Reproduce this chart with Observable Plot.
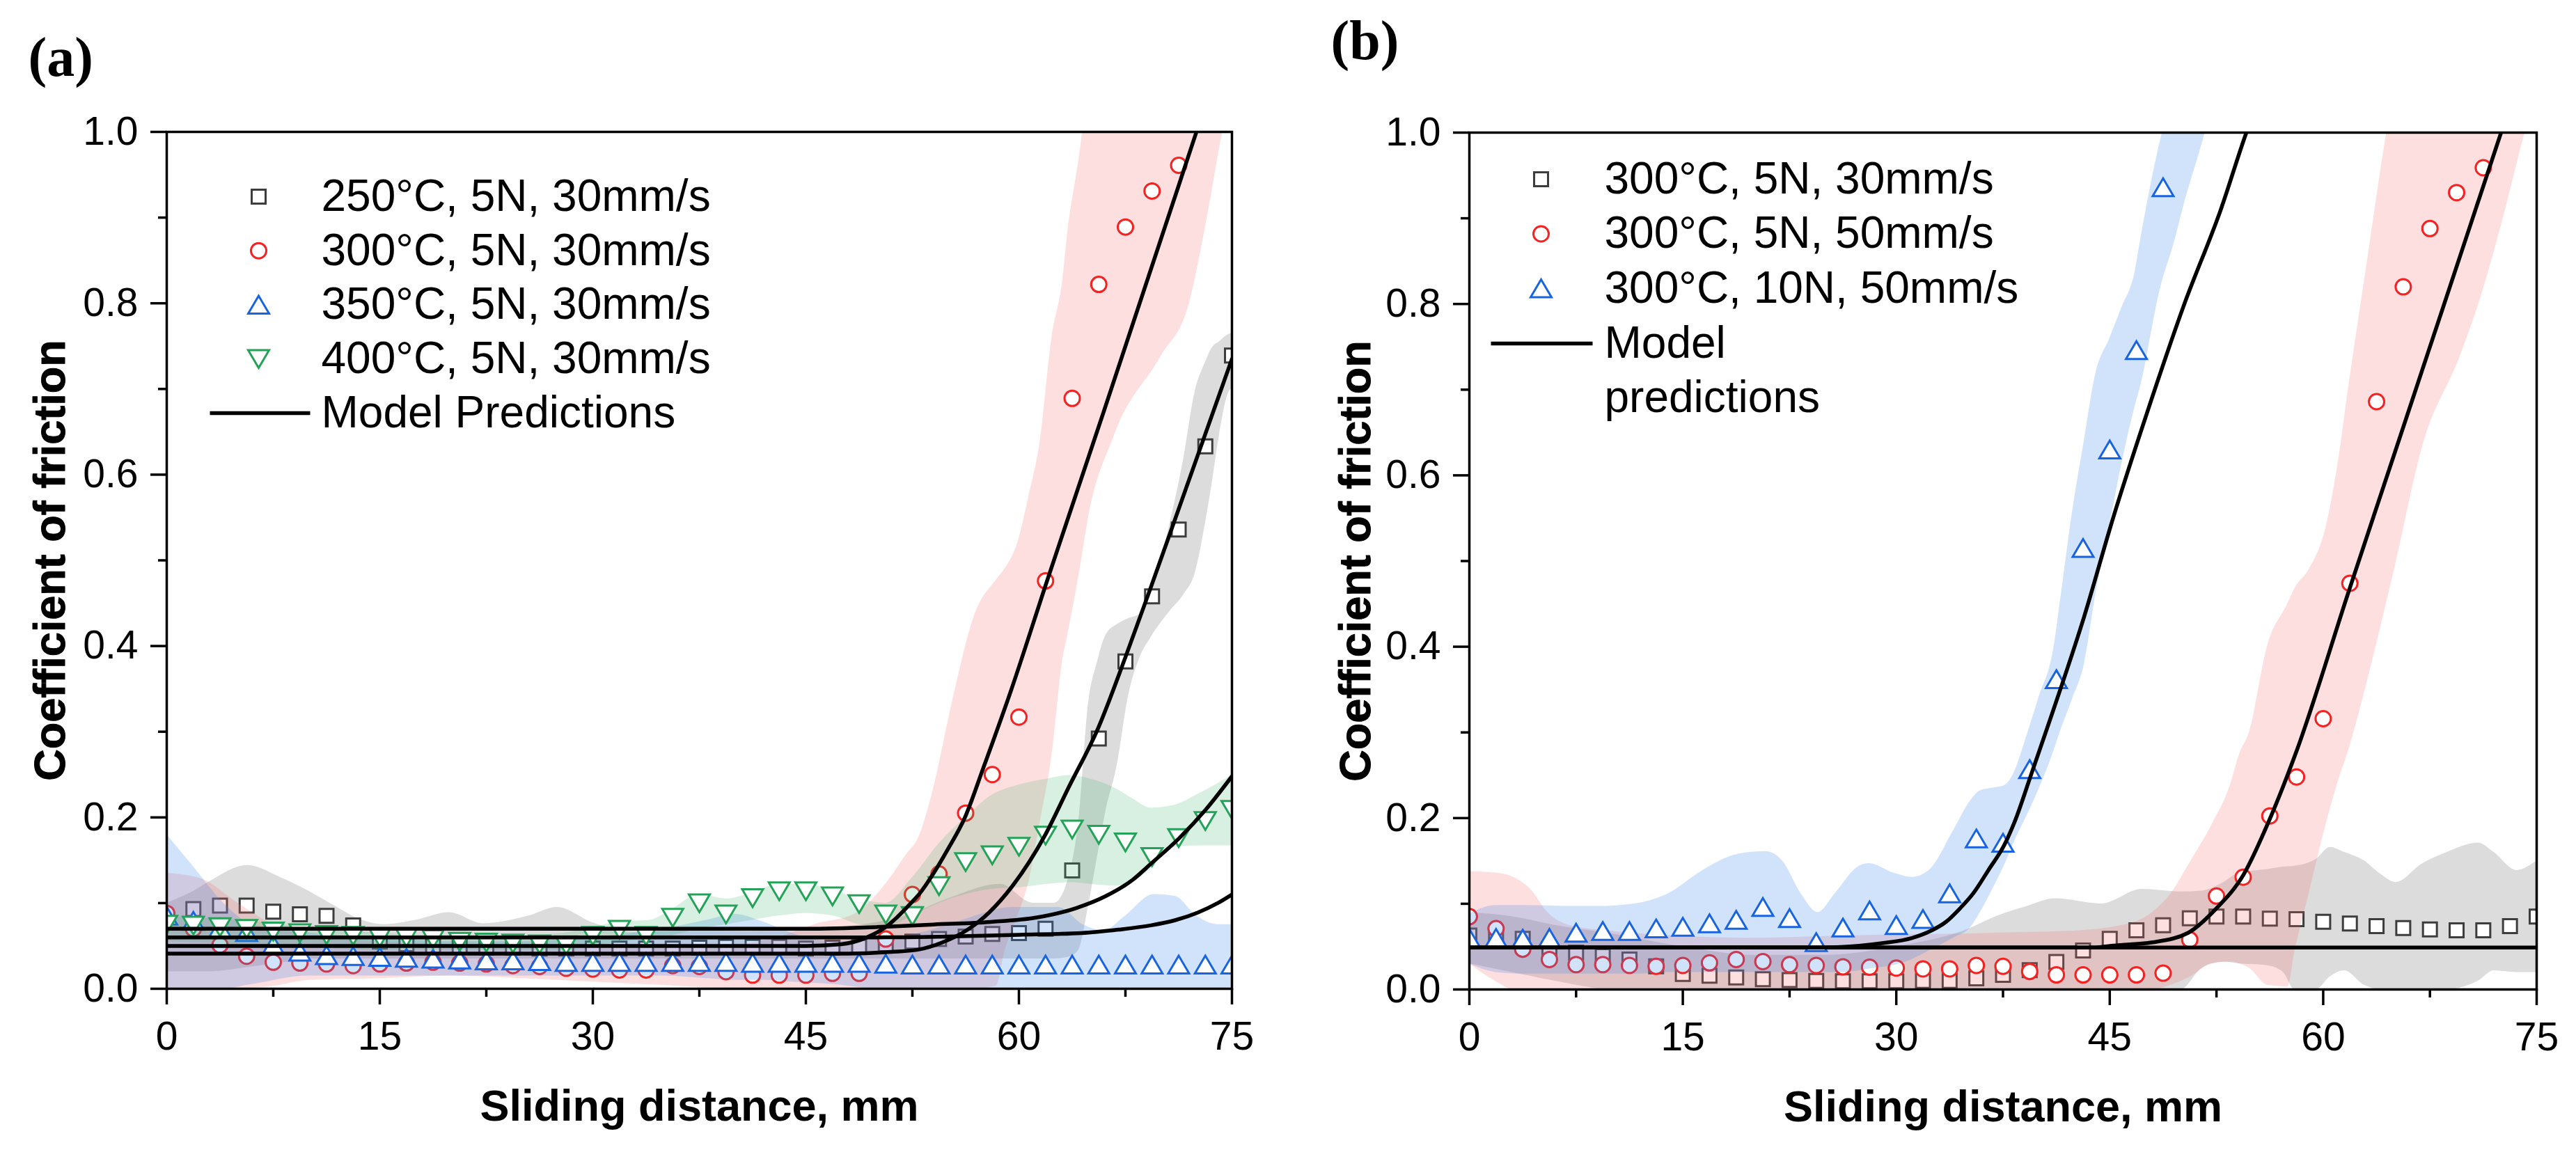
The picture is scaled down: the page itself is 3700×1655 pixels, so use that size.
<!DOCTYPE html>
<html><head><meta charset="utf-8">
<script src="https://cdn.jsdelivr.net/npm/d3@7"></script>
<script src="https://cdn.jsdelivr.net/npm/@observablehq/plot@0.6"></script>
<style>
body{margin:0;background:#fff;}
#wrap{display:flex;width:3700px;height:1655px;overflow:hidden;}
</style></head><body><div id="wrap"></div>
<script>
// ---------- shared x grid (mm) ----------
const dist = [0, 1.875, 3.75, 5.625, 7.5, 9.375, 11.25, 13.125, 15, 16.875, 18.75, 20.625, 22.5, 24.375, 26.25, 28.125, 30, 31.875, 33.75, 35.625, 37.5, 39.375, 41.25, 43.125, 45, 46.875, 48.75, 50.625, 52.5, 54.375, 56.25, 58.125, 60, 61.875, 63.75, 65.625, 67.5, 69.375, 71.25, 73.125, 75];

// ---------- panel (a) measured COF ----------
const a250 = [null, 0.093, 0.097, 0.097, 0.090, 0.087, 0.085, 0.074, 0.055, 0.052, 0.050, 0.049, 0.048, 0.048, 0.047, 0.047, 0.047, 0.047, 0.047, 0.047, 0.048, 0.049, 0.049, 0.049, 0.047, 0.048, 0.049, 0.052, 0.055, 0.058, 0.061, 0.064, 0.065, 0.070, 0.138, 0.292, 0.382, 0.458, 0.536, 0.633, 0.739];
const a300 = [0.088, 0.070, 0.051, 0.038, 0.031, 0.030, 0.029, 0.027, 0.029, 0.030, 0.031, 0.030, 0.029, 0.027, 0.026, 0.024, 0.023, 0.022, 0.022, 0.027, 0.026, 0.020, 0.016, 0.016, 0.016, 0.018, 0.018, 0.058, 0.110, 0.134, 0.205, 0.250, 0.317, 0.476, 0.689, 0.822, 0.889, 0.931, 0.961, null, null];
const a350 = [0.085, 0.079, 0.071, 0.066, 0.051, 0.043, 0.039, 0.038, 0.037, 0.036, 0.035, 0.034, 0.033, 0.033, 0.032, 0.031, 0.031, 0.031, 0.031, 0.031, 0.031, 0.031, 0.030, 0.030, 0.030, 0.030, 0.030, 0.029, 0.028, 0.028, 0.028, 0.028, 0.028, 0.028, 0.028, 0.028, 0.028, 0.028, 0.028, 0.028, 0.028];
const a400 = [0.075, 0.074, 0.072, 0.070, 0.067, 0.065, 0.063, 0.062, 0.060, 0.060, 0.058, 0.055, 0.054, 0.053, 0.052, 0.051, 0.062, 0.069, 0.062, 0.083, 0.100, 0.087, 0.106, 0.114, 0.114, 0.108, 0.099, 0.087, 0.085, 0.120, 0.148, 0.156, 0.166, 0.179, 0.186, 0.180, 0.171, 0.154, 0.176, 0.196, 0.209];

// panel (a) model predictions [x, cof]
const aModel250 = [[0,0.041],[48,0.041],[51,0.043],[53,0.046],[54.6,0.054],[56.3,0.068],[57.9,0.089],[59.5,0.119],[61.8,0.178],[63.5,0.235],[65.6,0.305],[67.5,0.387],[69.3,0.469],[72,0.595],[75,0.735]];
const aModel300 = [[0,0.050],[45,0.050],[47.5,0.052],[49.3,0.060],[50.7,0.073],[52.4,0.100],[53,0.111],[54,0.135],[55,0.163],[56.2,0.200],[57.5,0.258],[59.4,0.346],[62,0.477],[66,0.675],[70,0.875],[72.5,1.0],[73.5,1.05]];
const aModel350 = [[0,0.060],[50,0.060],[55,0.061],[60,0.063],[64.4,0.065],[67,0.069],[69.3,0.074],[71,0.080],[72.6,0.089],[74,0.100],[75,0.110]];
const aModel400 = [[0,0.070],[45,0.070],[50,0.072],[54,0.075],[58,0.078],[61.2,0.083],[64,0.094],[66.1,0.108],[68,0.127],[69.3,0.146],[71.3,0.176],[73.2,0.210],[75,0.248]];

// panel (a) scatter bands [x, low, high]
const aBand250 = [[0,0.02,0.10],[2,0.02,0.115],[3,0.02,0.125],[5.7,0.025,0.144],[8,0.03,0.13],[10,0.035,0.114],[12,0.035,0.095],[13.6,0.035,0.081],[15.3,0.035,0.075],[17.5,0.035,0.080],[19.9,0.035,0.089],[22.3,0.035,0.076],[25.5,0.035,0.085],[27.5,0.035,0.095],[30,0.035,0.077],[33,0.035,0.066],[37,0.035,0.068],[41,0.035,0.067],[45,0.035,0.07],[49,0.035,0.075],[52,0.035,0.085],[55,0.035,0.105],[58.7,0.035,0.122],[61,0.035,0.10],[62.5,0.035,0.10],[63.5,0.037,0.13],[64.2,0.045,0.195],[64.9,0.097,0.334],[65.5,0.152,0.38],[66.1,0.206,0.412],[66.9,0.26,0.425],[67.7,0.341,0.432],[68.5,0.386,0.437],[69.3,0.41,0.463],[70.6,0.44,0.541],[71.6,0.46,0.619],[72.4,0.485,0.697],[73.1,0.541,0.73],[73.6,0.59,0.748],[74.1,0.645,0.755],[74.8,0.697,0.764],[75,0.70,0.765]];
const aBand300 = [[0,0,0.135],[2.5,0,0.128],[5,0,0.10],[7.5,0.003,0.075],[10,0.01,0.062],[15,0.012,0.055],[20,0.015,0.052],[25,0.012,0.05],[30,0.008,0.05],[35,0.004,0.05],[40,0,0.052],[43,0,0.06],[45.8,0,0.076],[48.4,0,0.087],[50.7,0,0.124],[52,0,0.155],[53,0,0.179],[54,0,0.235],[55.3,0,0.334],[56.9,0,0.437],[58.4,0.003,0.477],[59,0.043,0.49],[59.9,0.084,0.52],[60.7,0.125,0.575],[61.5,0.195,0.64],[62.3,0.27,0.758],[63.1,0.386,0.83],[63.4,0.41,0.878],[64.4,0.5,0.99],[64.8,0.541,1.05],[66.7,0.645,1.05],[70,0.738,1.05],[72,0.80,1.05],[73.3,0.904,1.05],[74.3,0.997,1.05],[75,1.05,1.05]];
const aBand350 = [[0,0,0.18],[2,0,0.14],[4,0,0.10],[6,0.005,0.075],[10,0.015,0.065],[15,0.015,0.06],[20,0.015,0.055],[25,0.015,0.055],[30,0.015,0.06],[35,0.015,0.07],[38,0.012,0.08],[40,0.01,0.087],[42,0.01,0.078],[44,0.008,0.065],[47,0.005,0.055],[50,0,0.058],[53,0,0.065],[56,0,0.08],[59.5,0,0.095],[62.8,0,0.095],[64.5,0,0.075],[66,0,0.068],[67.5,0,0.085],[69.5,0,0.11],[71,0,0.108],[72.5,0,0.085],[74,0,0.075],[75,0,0.075]];
const aBand400 = [[0,0.055,0.085],[5,0.052,0.08],[10,0.048,0.072],[15,0.045,0.065],[20,0.045,0.062],[25,0.045,0.062],[28,0.045,0.065],[30,0.05,0.072],[32,0.055,0.078],[34,0.058,0.08],[35.6,0.062,0.093],[37.5,0.07,0.11],[39.4,0.075,0.105],[41.2,0.08,0.112],[43.1,0.085,0.122],[45,0.088,0.122],[46.9,0.085,0.115],[48.75,0.075,0.105],[50.6,0.072,0.10],[52.5,0.085,0.13],[54.4,0.10,0.17],[56.25,0.11,0.2],[58,0.116,0.225],[60,0.118,0.238],[62,0.122,0.245],[63.6,0.124,0.249],[65,0.122,0.245],[66.9,0.12,0.233],[68,0.125,0.222],[69.3,0.14,0.211],[70.9,0.165,0.214],[72.6,0.167,0.227],[75,0.167,0.249]];

// ---------- panel (b) measured COF ----------
const b5N30 = [0.063, 0.062, 0.059, 0.045, 0.043, 0.039, 0.035, 0.027, 0.018, 0.016, 0.014, 0.012, 0.011, 0.010, 0.0095, 0.0095, 0.0095, 0.010, 0.010, 0.013, 0.017, 0.0225, 0.032, 0.0455, 0.059, 0.069, 0.075, 0.083, 0.085, 0.085, 0.0826, 0.082, 0.079, 0.077, 0.074, 0.0717, 0.070, 0.069, 0.069, 0.074, 0.085];
const b5N50 = [0.085, 0.071, 0.047, 0.035, 0.029, 0.029, 0.028, 0.027, 0.028, 0.031, 0.035, 0.0325, 0.029, 0.028, 0.0265, 0.026, 0.025, 0.024, 0.024, 0.028, 0.027, 0.021, 0.017, 0.017, 0.017, 0.017, 0.019, 0.058, 0.109, 0.131, 0.2025, 0.248, 0.316, 0.474, 0.686, 0.820, 0.888, 0.930, 0.959, null, null];
const b10N50 = [0.060, 0.060, 0.059, 0.060, 0.066, 0.068, 0.068, 0.071, 0.073, 0.077, 0.081, 0.096, 0.083, 0.055, 0.072, 0.092, 0.075, 0.082, 0.112, 0.176, 0.171, 0.257, 0.362, 0.515, 0.630, 0.746, 0.936, null, null, null, null, null, null, null, null, null, null, null, null, null, null];

// panel (b) model predictions
const bModel5N30 = [[0,0.049],[75,0.049]];
const bModel5N50 = [[0,0.049],[44,0.049],[45.1,0.051],[48,0.055],[50.5,0.066],[52.4,0.093],[54.4,0.134],[56.3,0.201],[58.1,0.277],[61.8,0.465],[65,0.625],[68.3,0.79],[72.5,1.0],[73.3,1.04]];
const bModel10N50 = [[0,0.049],[25,0.049],[27.4,0.051],[29,0.054],[31.1,0.060],[32.5,0.069],[33.5,0.079],[34.5,0.095],[35.4,0.112],[36.5,0.140],[37.6,0.169],[38.3,0.195],[39.5,0.252],[40.6,0.305],[43.2,0.435],[45.25,0.551],[47.6,0.672],[50.2,0.798],[52.8,0.910],[54.6,1.0],[55.5,1.04]];

// panel (b) scatter bands
const bBand5N30 = [[0,0.03,0.09],[3,0.02,0.085],[6,0.01,0.075],[10,0,0.065],[15,0,0.05],[20,0,0.04],[25,0,0.04],[30,0,0.05],[35,0,0.07],[37,0,0.085],[39,0,0.096],[41.2,0,0.106],[44.4,0,0.100],[47.3,0,0.117],[50,0,0.114],[51.5,0.025,0.115],[53,0.032,0.125],[54.1,0.03,0.136],[56,0.028,0.14],[57.2,0.02,0.143],[58,0,0.144],[59.5,0,0.152],[60.5,0.015,0.166],[61.5,0.022,0.16],[62.9,0.005,0.150],[64,0,0.135],[65.1,0,0.125],[67,0,0.147],[68.7,0,0.160],[70.9,0.01,0.171],[72,0.022,0.16],[73.6,0.02,0.139],[75,0.02,0.15]];
const bBand5N50 = [[0,0.03,0.1375],[1.8,0.01,0.136],[3.1,0,0.131],[4.3,0,0.117],[5.5,0,0.09],[7,0,0.075],[10,0,0.068],[15,0,0.062],[20,0,0.06],[25,0,0.062],[30,0,0.064],[35,0,0.065],[37.1,0,0.066],[42,0,0.068],[45.6,0,0.074],[48,0,0.090],[49.3,0.005,0.112],[50.7,0.015,0.150],[52.2,0.03,0.193],[53.5,0.032,0.24],[54.1,0.03,0.274],[54.8,0.025,0.30],[56.1,0.005,0.402],[57.5,0.003,0.45],[58,0.044,0.468],[59,0.112,0.49],[60.2,0.193,0.54],[61,0.24,0.61],[61.8,0.28,0.705],[63.1,0.36,0.85],[64.4,0.448,0.994],[65,0.49,1.05],[67,0.635,1.05],[69.6,0.738,1.05],[70.9,0.799,1.05],[72.5,0.891,1.05],[74,0.989,1.05],[75,1.05,1.05]];
const bBand10N50 = [[0,0.03,0.088],[1.85,0.02,0.098],[4,0.018,0.098],[6.7,0.018,0.097],[9,0.018,0.097],[11.6,0.018,0.100],[14,0.02,0.112],[16.4,0.02,0.139],[18.9,0.02,0.158],[20.8,0.02,0.161],[22,0.02,0.150],[23.3,0.02,0.112],[24.5,0.02,0.090],[25.7,0.02,0.112],[27.4,0.022,0.144],[28.1,0.024,0.147],[29.8,0.028,0.136],[31.1,0.035,0.131],[32.3,0.045,0.139],[34,0.06,0.185],[35.2,0.072,0.220],[35.9,0.09,0.232],[37.1,0.128,0.236],[37.6,0.145,0.238],[38.5,0.18,0.262],[38.8,0.19,0.277],[40,0.233,0.34],[41.1,0.28,0.402],[41.5,0.30,0.45],[42.4,0.34,0.560],[43.2,0.379,0.64],[44,0.46,0.718],[45,0.542,0.76],[45.8,0.61,0.794],[46.8,0.682,0.84],[47.1,0.70,0.869],[48.6,0.821,0.994],[49.5,0.87,1.05],[50.2,0.915,1.05],[51.6,0.994,1.05],[52.5,1.05,1.05]];

// ---------- ticks & labels ----------
const xMajor = [0, 15, 30, 45, 60, 75];
const xMinor = [7.5, 22.5, 37.5, 52.5, 67.5];
const yMajor = [0, 0.2, 0.4, 0.6, 0.8, 1.0];
const yMinor = [0.1, 0.3, 0.5, 0.7, 0.9];
const legendA = ["250°C, 5N, 30mm/s", "300°C, 5N, 30mm/s", "350°C, 5N, 30mm/s", "400°C, 5N, 30mm/s"];
const legendB = ["300°C, 5N, 30mm/s", "300°C, 5N, 50mm/s", "300°C, 10N, 50mm/s"];
const xTitle = "Sliding distance, mm";
const yTitle = "Coefficient of friction";

// ---------- symbols ----------
const symSquare = {draw(c){ c.moveTo(-10,-10); c.lineTo(10,-10); c.lineTo(10,10); c.lineTo(-10,10); c.closePath(); }};
const symCircle = {draw(c){ c.moveTo(11,0); c.arc(0,0,11,0,2*Math.PI); c.closePath(); }};
const symUp = {draw(c){ c.moveTo(0,-13); c.lineTo(15,12.5); c.lineTo(-15,12.5); c.closePath(); }};
const symDown = {draw(c){ c.moveTo(0,13); c.lineTo(15,-12.5); c.lineTo(-15,-12.5); c.closePath(); }};
const symLineA = {draw(c){ c.moveTo(-72,0); c.lineTo(72,0); }};
const symLineB = {draw(c){ c.moveTo(-73,0); c.lineTo(73,0); }};

const C = {
  gray: {stroke: "#3d3d3d", band: "#8c8c8c", op: 0.30, sym: symSquare},
  red: {stroke: "#f52222", band: "#fa6e6e", op: 0.22, sym: symCircle},
  blue: {stroke: "#1763e0", band: "#3c8ceb", op: 0.24, sym: symUp},
  green: {stroke: "#24a258", band: "#3cb46e", op: 0.20, sym: symDown}
};

const pts = ys => ys.map((y, i) => ({x: dist[i], y})).filter(d => d.y != null);
const bandRows = rows => rows.map(([x, lo, hi]) => ({x, lo, hi}));
const curveRows = rows => rows.map(([x, y]) => ({x, y}));

function seriesMarks(ys, band, col) {
  return [
    Plot.areaY(bandRows(band), {x: "x", y1: "lo", y2: "hi", fill: col.band, fillOpacity: col.op, curve: "monotone-x", clip: true}),
    Plot.dot(pts(ys), {x: "x", y: "y", symbol: col.sym, stroke: col.stroke, fill: "white", strokeWidth: 3, clip: true})
  ];
}

function panel(cfg) {
  const marks = [];
  cfg.series.forEach(s => marks.push(...seriesMarks(s.ys, s.band, s.col)));
  cfg.models.forEach(m => marks.push(Plot.line(curveRows(m), {x: "x", y: "y", stroke: "black", strokeWidth: 5.5, curve: "monotone-x", clip: true})));
  marks.push(Plot.frame({stroke: "black", strokeWidth: 3.5}));
  marks.push(Plot.axisY(yMajor, {tickSize: 23, tickPadding: 18, tickFormat: d3.format(".1f"), fontSize: 57, strokeWidth: 3.5, label: null}));
  marks.push(Plot.axisY(yMinor, {tickSize: 12, tickFormat: () => "", strokeWidth: 3.5, label: null}));
  marks.push(Plot.axisX(xMajor, {tickSize: 23, tickPadding: 24, tickFormat: d => String(d), fontSize: 57, strokeWidth: 3.5, label: null}));
  marks.push(Plot.axisX(xMinor, {tickSize: 12, tickFormat: () => "", strokeWidth: 3.5, label: null}));
  // titles
  marks.push(Plot.text([xTitle], {frameAnchor: "bottom", dy: 145, lineAnchor: "top", text: d => d, fontSize: 63, fontWeight: "bold", fill: "black"}));
  marks.push(Plot.text([yTitle], {frameAnchor: "left", dx: cfg.yTitleDx, rotate: -90, lineAnchor: "bottom", textAnchor: "middle", text: d => d, fontSize: 63, fontWeight: "bold", fill: "black", stroke: "black", strokeWidth: 1}));
  // panel label
  marks.push(Plot.text([cfg.tag], {frameAnchor: "top-left", dx: cfg.tagDx, dy: cfg.tagDy, textAnchor: "start", lineAnchor: "bottom", text: d => d, fontSize: 80, fontWeight: "bold", fontFamily: "'Liberation Serif', 'Times New Roman', serif", fill: "black"}));
  // legend
  const L = cfg.legend;
  L.labels.forEach((lab, i) => {
    const col = cfg.series[i].col;
    marks.push(Plot.dot([lab], {frameAnchor: "top-left", dx: L.mx, dy: L.y0 + i * L.step, symbol: col.sym, stroke: col.stroke, fill: "white", strokeWidth: 3}));
    marks.push(Plot.text([lab], {frameAnchor: "top-left", dx: L.tx, dy: L.y0 + i * L.step, text: d => d, textAnchor: "start", lineAnchor: "middle", fontSize: 64, fill: "black"}));
  });
  marks.push(Plot.dot(["model"], {frameAnchor: "top-left", dx: L.lx, dy: L.ly, symbol: L.lsym, stroke: "black", fill: "none", strokeWidth: 5.5}));
  L.modelText.forEach((t, j) => {
    marks.push(Plot.text([t], {frameAnchor: "top-left", dx: L.tx, dy: L.ly + j * L.step, text: d => d, textAnchor: "start", lineAnchor: "middle", fontSize: 64, fill: "black"}));
  });
  return Plot.plot({
    width: 1850, height: 1655,
    marginLeft: cfg.ml, marginRight: cfg.mr, marginTop: cfg.mt, marginBottom: cfg.mb,
    x: {domain: [0, 75]},
    y: {domain: [0, 1]},
    style: {fontFamily: "'Liberation Sans', Arial, Helvetica, sans-serif", background: "white", color: "black", overflow: "visible"},
    marks
  });
}

const plotA = panel({
  ml: 239, mr: 81, mt: 189, mb: 235,
  yTitleDx: -147, tag: "(a)", tagDx: -199, tagDy: -81,
  series: [
    {ys: a250, band: aBand250, col: C.gray},
    {ys: a300, band: aBand300, col: C.red},
    {ys: a350, band: aBand350, col: C.blue},
    {ys: a400, band: aBand400, col: C.green}
  ],
  models: [aModel250, aModel300, aModel350, aModel400],
  legend: {labels: legendA, mx: 132, tx: 222, y0: 93, step: 77.7, lx: 134, ly: 404, lsym: symLineA, modelText: ["Model Predictions"]}
});

const plotB = panel({
  ml: 260, mr: 57, mt: 190, mb: 234,
  yTitleDx: -143, tag: "(b)", tagDx: -199, tagDy: -106,
  series: [
    {ys: b5N30, band: bBand5N30, col: C.gray},
    {ys: b5N50, band: bBand5N50, col: C.red},
    {ys: b10N50, band: bBand10N50, col: C.blue}
  ],
  models: [bModel5N30, bModel5N50, bModel10N50],
  legend: {labels: legendB, mx: 103, tx: 194, y0: 67, step: 78.5, lx: 104, ly: 303, lsym: symLineB, modelText: ["Model", "predictions"]}
});

document.getElementById("wrap").append(plotA, plotB);
</script>
</body></html>
